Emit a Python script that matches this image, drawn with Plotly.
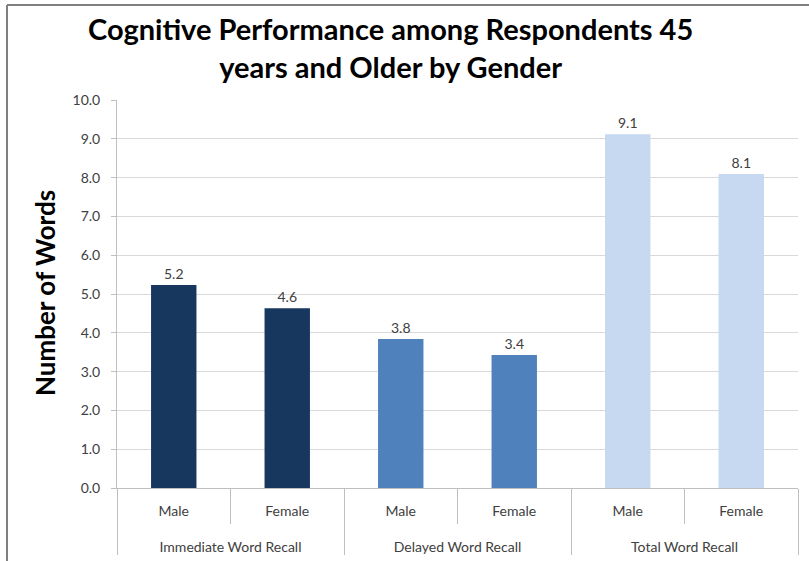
import plotly.graph_objects as go

groups = ["Immediate Word Recall", "Immediate Word Recall",
          "Delayed Word Recall", "Delayed Word Recall",
          "Total Word Recall", "Total Word Recall"]
genders = ["Male", "Female", "Male", "Female", "Male", "Female"]
values = [5.23, 4.63, 3.84, 3.43, 9.12, 8.09]
colors = ["#17375E", "#17375E", "#4F81BD", "#4F81BD", "#C6D9F1", "#C6D9F1"]
y_ticks = [0, 1, 2, 3, 4, 5, 6, 7, 8, 9, 10]

W, H = 809, 561
L, R, T, B = 117, 11, 100, 73
pw, ph = W - L - R, H - T - B

def px(x):
    return (x - L) / pw

def py(y):
    return (H - B - y) / ph

spacer = "<br><span style='font-size:36px'> </span>"

fig = go.Figure()
fig.add_trace(go.Bar(
    x=[groups, [g + spacer for g in genders]], y=values,
    marker=dict(color=colors, line=dict(width=0)),
    text=[f"{v:.1f}" for v in values], textposition="outside",
    textfont=dict(family="Lato", size=14, color="#404040"),
    cliponaxis=False, hoverinfo="skip",
))

font_lab = dict(family="Lato", size=14, color="#404040")
fig.update_layout(
    width=W, height=H,
    margin=dict(l=L, r=R, t=T, b=B, autoexpand=False),
    paper_bgcolor="white", plot_bgcolor="white",
    showlegend=False, bargap=0.6,
    font=font_lab,
    xaxis=dict(
        type="multicategory", showline=True, linecolor="#BFBFBF", linewidth=1,
        ticks="outside", tickson="boundaries", ticklen=35, tickcolor="#BFBFBF",
        showdividers=True, dividercolor="#BFBFBF", dividerwidth=1,
        tickfont=font_lab, showgrid=False, ticklabelstandoff=10,
    ),
    yaxis=dict(
        range=[0, 10], tickvals=y_ticks, ticktext=[f"{v:.1f}" for v in y_ticks],
        showline=True, linecolor="#BFBFBF", linewidth=1,
        ticks="outside", ticklen=5, tickcolor="#BFBFBF",
        showgrid=True, gridcolor="#D9D9D9", gridwidth=1,
        tickfont=font_lab, zeroline=False, ticklabelstandoff=8,
    ),
)

fig.add_annotation(
    text="<b>Cognitive Performance among Respondents 45<br>years and Older by Gender</b>",
    xref="paper", yref="paper", x=px(390), y=py(47), xanchor="center", yanchor="middle",
    showarrow=False, font=dict(family="Lato", size=29, color="black"), align="center",
)
fig.add_annotation(
    text="<b>Number of Words</b>", textangle=-90,
    xref="paper", yref="paper", x=px(45), y=py(293), xanchor="center", yanchor="middle",
    showarrow=False, font=dict(family="Lato", size=26, color="black"),
)
# chart frame (left and top)
fig.add_shape(type="line", xref="paper", yref="paper", x0=px(7), x1=px(7), y0=py(5), y1=py(565),
              line=dict(color="#7F7F7F", width=2))
fig.add_shape(type="line", xref="paper", yref="paper", x0=px(7), x1=px(815), y0=py(5), y1=py(5),
              line=dict(color="#7F7F7F", width=2))

fig.write_html("out.html", config={"displayModeBar": False},
               post_script="document.body.style.margin='0';")
